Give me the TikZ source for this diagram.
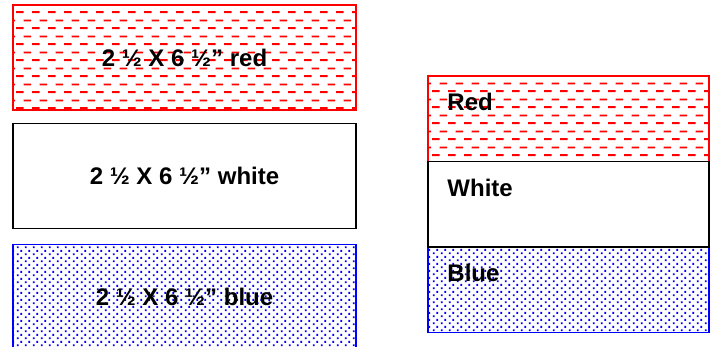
\documentclass[tikz,border=0pt]{standalone}
\usepackage{fontspec}
\setmainfont{Liberation Sans}
\usetikzlibrary{patterns,positioning}

% fill patterns
\pgfdeclarepatternformonly{reddashes}{\pgfpointorigin}{\pgfpoint{16pt}{15.6pt}}{\pgfpoint{16pt}{15.6pt}}{
\pgfsetlinewidth{2pt}
\pgfpathmoveto{\pgfpoint{0pt}{3.9pt}}\pgfpathlineto{\pgfpoint{8pt}{3.9pt}}
\pgfpathmoveto{\pgfpoint{8pt}{11.7pt}}\pgfpathlineto{\pgfpoint{16pt}{11.7pt}}
\pgfusepath{stroke}}
\pgfdeclarepatternformonly{bluedots}{\pgfpointorigin}{\pgfpoint{8pt}{7.4pt}}{\pgfpoint{8pt}{7.4pt}}{
\pgfpathrectangle{\pgfpoint{1pt}{0.85pt}}{\pgfpoint{2pt}{2pt}}
\pgfpathrectangle{\pgfpoint{5pt}{4.55pt}}{\pgfpoint{2pt}{2pt}}
\pgfusepath{fill}}

\tikzstyle{redbox} = [rectangle, draw=red, line width=1.5pt, pattern=reddashes, pattern color=red]
\tikzstyle{whitebox} = [rectangle, draw=black, line width=1.5pt, fill=white]
\tikzstyle{bluebox} = [rectangle, draw=blue, line width=1.5pt, pattern=bluedots, pattern color=blue]
\tikzstyle{strip} = [minimum width=343pt, minimum height=105pt, inner sep=0pt,
font=\bfseries\fontsize{24}{24}\selectfont]
\tikzstyle{band} = [minimum width=281pt, minimum height=85.5pt, inner sep=0pt]
\tikzstyle{boxtext} = [inner sep=0pt, anchor=north west, font=\bfseries\fontsize{24}{24}\selectfont]

\begin{document}
\begin{tikzpicture}[x=1pt, y=-1pt]
\useasboundingbox (0,0) rectangle (712,346);
\clip (0,0) rectangle (712,346);

% strips on the left
\node [redbox, strip] (redstrip) at (184.5,57.5) {2 ½ X 6 ½” red};
\node [whitebox, strip] (whitestrip) at (184.5,176) {2 ½ X 6 ½” white};
\node [bluebox, strip] (bluestrip) at (184.5,297) {2 ½ X 6 ½” blue};

% sewn block on the right
\node [redbox, band] (redband) at (568.5,118.5) {};
\node [bluebox, band] (blueband) at (568.5,289.5) {};
\node [whitebox, band] (whiteband) at (568.5,204) {};
\node [boxtext] (redname) at ([xshift=20pt,yshift=-18pt]redband.north west) {Red};
\node [boxtext] (whitename) at ([xshift=20pt,yshift=-18pt]whiteband.north west) {White};
\node [boxtext] (bluename) at ([xshift=20pt,yshift=-18pt]blueband.north west) {Blue};
\end{tikzpicture}
\end{document}
